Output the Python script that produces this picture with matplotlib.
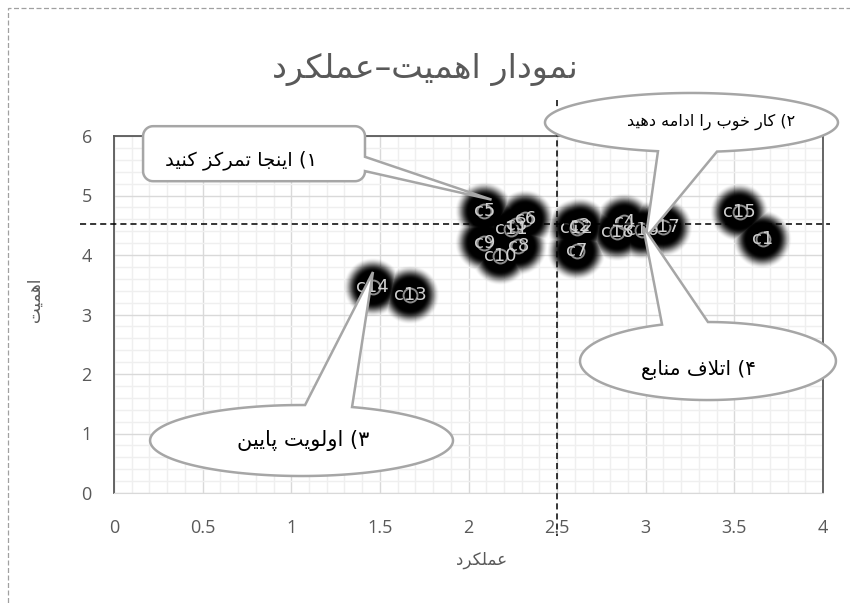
import numpy as np
import matplotlib
matplotlib.use("Agg")
import matplotlib.pyplot as plt
from matplotlib.patches import Polygon, Rectangle
from matplotlib.ticker import MultipleLocator
from matplotlib.font_manager import findfont, FontProperties
from matplotlib.ft2font import FT2Font

plt.rcParams['font.family'] = ['Open Sans', 'DejaVu Sans']

# ---- data ----
names = ['c1', 'c2', 'c3', 'c4', 'c5', 'c6', 'c7', 'c8', 'c9', 'c10',
         'c11', 'c12', 'c13', 'c14', 'c15', 'c16', 'c17', 'c18']
performance = [3.66, 2.63, 2.27, 2.88, 2.09, 2.32, 2.61, 2.28, 2.09, 2.18,
               2.24, 2.61, 1.67, 1.46, 3.53, 2.98, 3.10, 2.84]
importance = [4.27, 4.48, 4.50, 4.55, 4.74, 4.61, 4.07, 4.15, 4.21, 3.99,
              4.44, 4.46, 3.33, 3.46, 4.72, 4.42, 4.47, 4.39]
perf_cut = 2.5
imp_cut = 4.52

x_ticks = [0, 0.5, 1, 1.5, 2, 2.5, 3, 3.5, 4]
x_tick_labels = ['0', '0.5', '1', '1.5', '2', '2.5', '3', '3.5', '4']
y_ticks = [0, 1, 2, 3, 4, 5, 6]

title_txt = 'نمودار اهمیت–عملکرد'
xlabel_txt = 'عملکرد'
ylabel_txt = 'اهمیت'
callout_txt = ['۱) اینجا تمرکز کنید', '۲) کار خوب را ادامه دهید',
               '۳) اولویت پایین', '۴) اتلاف منابع']

# ---- minimal persian shaping (matplotlib has no RTL layout) ----
FORMS = {
    'ا': ('\uFE8D', '\uFE8E', None, None),
    'ب': ('\uFE8F', '\uFE90', '\uFE91', '\uFE92'),
    'پ': ('\uFB56', '\uFB57', '\uFB58', '\uFB59'),
    'ت': ('\uFE95', '\uFE96', '\uFE97', '\uFE98'),
    'ج': ('\uFE9D', '\uFE9E', '\uFE9F', '\uFEA0'),
    'خ': ('\uFEA5', '\uFEA6', '\uFEA7', '\uFEA8'),
    'د': ('\uFEA9', '\uFEAA', None, None),
    'ر': ('\uFEAD', '\uFEAE', None, None),
    'ز': ('\uFEAF', '\uFEB0', None, None),
    'ع': ('\uFEC9', '\uFECA', '\uFECB', '\uFECC'),
    'ف': ('\uFED1', '\uFED2', '\uFED3', '\uFED4'),
    'ک': ('\uFB8E', '\uFB8F', '\uFB90', '\uFB91'),
    'ل': ('\uFEDD', '\uFEDE', '\uFEDF', '\uFEE0'),
    'م': ('\uFEE1', '\uFEE2', '\uFEE3', '\uFEE4'),
    'ن': ('\uFEE5', '\uFEE6', '\uFEE7', '\uFEE8'),
    'ه': ('\uFEE9', '\uFEEA', '\uFEEB', '\uFEEC'),
    'و': ('\uFEED', '\uFEEE', None, None),
    'ی': ('\uFBFC', '\uFBFD', '\uFBFE', '\uFBFF'),
}
SUBST = {
    'ی': ('\uFEEF', '\uFEF0', '\uFEF3', '\uFEF4'),
    'ک': ('\uFED9', '\uFEDA', '\uFEDB', '\uFEDC'),
}
_cmap = FT2Font(findfont(FontProperties(family='DejaVu Sans'))).get_charmap()
for k, alt in SUBST.items():
    if any(ord(f) not in _cmap for f in FORMS[k]):
        FORMS[k] = alt


def shape(s):
    res = []
    i, n = 0, len(s)
    while i < n:
        c = s[i]
        if c not in FORMS:
            res.append(c)
            i += 1
            continue
        prev = i > 0 and s[i - 1] in FORMS and FORMS[s[i - 1]][2] is not None
        if c == 'ل' and i + 1 < n and s[i + 1] == 'ا':
            res.append('\uFEFC' if prev else '\uFEFB')
            i += 2
            continue
        iso, fin, ini, med = FORMS[c]
        nxt = i + 1 < n and s[i + 1] in FORMS and ini is not None
        if prev and nxt:
            res.append(med)
        elif prev:
            res.append(fin)
        elif nxt:
            res.append(ini)
        else:
            res.append(iso)
        i += 1
    return ''.join(res)


def rtl(s):
    mirror = {'(': ')', ')': '('}
    return ''.join(mirror.get(c, c) for c in reversed(shape(s)))


# ---- figure ----
fig = plt.figure(figsize=(8.5, 6.04), dpi=100)
fig.patches.append(Rectangle((8 / 850, -0.2), 1.2, 1.2 - 8 / 604,
                             transform=fig.transFigure, fill=False,
                             ec='#a0a0a0', lw=0.9, ls=(0, (4, 2))))
ax = fig.add_axes([114 / 850, 111 / 604, 709 / 850, 357 / 604])
ax.set_xlim(0, 4)
ax.set_ylim(0, 6)
sx = 709 / 4.0
sy = 357 / 6.0

ax.xaxis.set_major_locator(MultipleLocator(0.5))
ax.xaxis.set_minor_locator(MultipleLocator(0.1))
ax.yaxis.set_major_locator(MultipleLocator(1))
ax.yaxis.set_minor_locator(MultipleLocator(0.2))
ax.set_xticks(x_ticks)
ax.set_xticklabels(x_tick_labels)
ax.set_yticks(y_ticks)
ax.grid(which='major', color='#d9d9d9', lw=1)
ax.grid(which='minor', color='#efefef', lw=1)
ax.set_axisbelow(True)
ax.tick_params(which='both', length=0, labelsize=13, labelcolor='#595959')
ax.tick_params(axis='x', pad=19)
ax.tick_params(axis='y', pad=16)
for s in ['left', 'top', 'right']:
    ax.spines[s].set_color('#595959')
    ax.spines[s].set_linewidth(1.3)
ax.spines['bottom'].set_color('#d9d9d9')

# black glow behind the points
gx = np.linspace(0, 4, 709)
gy = np.linspace(0, 6, 357)
GX, GY = np.meshgrid(gx, gy)
alpha = np.zeros_like(GX)
for x, y in zip(performance, importance):
    d = np.hypot((GX - x) * sx, (GY - y) * sy)
    a = np.clip((30 - d) / 14, 0, 1)
    alpha = np.maximum(alpha, a * a * (3 - 2 * a))
rgba = np.zeros(GX.shape + (4,))
rgba[..., 3] = alpha
ax.imshow(rgba, extent=(0, 4, 0, 6), origin='lower', aspect='auto',
          interpolation='bilinear', zorder=2)

ax.plot(performance, importance, 'o', ms=10, mfc='none', mec='#8c8c8c',
        mew=1.4, zorder=3)
for nm, x, y in zip(names, performance, importance):
    ax.text(x, y, nm, ha='center', va='center', fontsize=13,
            color='#d0d0d0', zorder=4, family='DejaVu Sans')

# cut lines
ax.plot([-0.19, 4.04], [imp_cut, imp_cut], color='black', lw=1.1,
        ls=(0, (4, 2.6)), clip_on=False, zorder=5)
ax.plot([perf_cut, perf_cut], [6.6, -0.72], color='black', lw=1.1,
        ls=(0, (4, 2.6)), clip_on=False, zorder=5)


# ---- callouts ----
def ellipse_callout(cx, cy, w, h, bx, side, tip):
    t_a = np.arccos(np.clip((np.array(bx) - cx) / (w / 2), -1, 1))
    if side == 'bottom':
        t = np.linspace(2 * np.pi - t_a[1], 4 * np.pi - t_a[0], 200)
    else:
        t = np.linspace(t_a[0], t_a[1] + 2 * np.pi, 200)
    pts = [(cx + w / 2 * np.cos(a), cy + h / 2 * np.sin(a)) for a in t]
    pts.append(tip)
    ax.add_patch(Polygon(pts, closed=True, fc='white', ec='#a6a6a6',
                         lw=1.8, clip_on=False, zorder=6))


def rect_callout(x0, x1, y0, y1, r, by, tip):
    rx, ry = r / sx, r / sy
    pts = [(x1, by[0]), tip, (x1, by[1])]

    def arc(cx, cy, a0, a1):
        for a in np.linspace(a0, a1, 12):
            pts.append((cx + rx * np.cos(a), cy + ry * np.sin(a)))
    arc(x1 - rx, y1 - ry, 0, np.pi / 2)
    arc(x0 + rx, y1 - ry, np.pi / 2, np.pi)
    arc(x0 + rx, y0 + ry, np.pi, 1.5 * np.pi)
    arc(x1 - rx, y0 + ry, 1.5 * np.pi, 2 * np.pi)
    ax.add_patch(Polygon(pts, closed=True, fc='white', ec='#a6a6a6',
                         lw=1.8, clip_on=False, zorder=6))


rect_callout(0.164, 1.416, 5.24, 6.165, 10, (5.41, 5.65), (2.13, 4.93))
ellipse_callout(3.258, 6.227, 1.653, 0.992, (3.069, 3.402), 'bottom', (3.00, 4.29))
ellipse_callout(1.058, 0.882, 1.709, 1.193, (1.078, 1.343), 'top', (1.461, 3.714))
ellipse_callout(3.351, 2.218, 1.444, 1.311, (3.092, 3.351), 'top', (2.985, 4.48))

for txt, (tx, ty), fs in zip(callout_txt,
                             [(0.716, 5.60), (3.368, 6.235), (1.066, 0.89), (3.30, 2.07)],
                             [14, 11.5, 15, 14.5]):
    ax.text(tx, ty, rtl(txt), ha='center', va='center', fontsize=fs,
            color='black', zorder=7, family='DejaVu Sans')

fig.text(425 / 850, 1 - 69 / 604, rtl(title_txt), ha='center', va='center',
         fontsize=24, color='#595959', family='DejaVu Sans')
fig.text(482 / 850, 1 - 560 / 604, rtl(xlabel_txt), ha='center', va='center',
         fontsize=12, color='#595959', family='DejaVu Sans')
fig.text(35 / 850, 1 - 300 / 604, rtl(ylabel_txt), ha='center', va='center',
         fontsize=12, color='#595959', rotation=90, family='DejaVu Sans')

fig.savefig('out.png', dpi=100)
